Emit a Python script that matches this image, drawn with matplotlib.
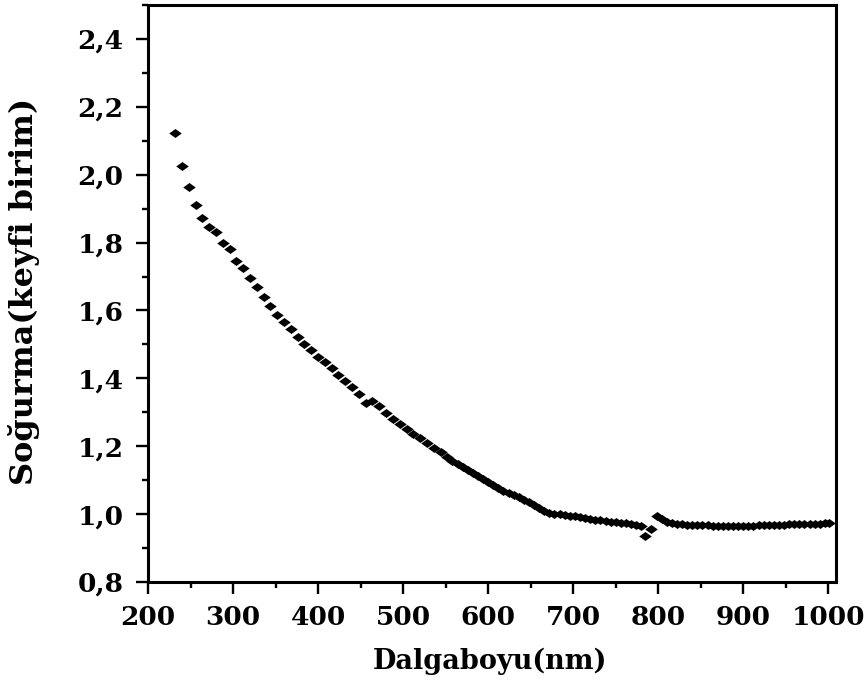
import matplotlib
matplotlib.use("Agg")
import matplotlib.pyplot as plt
from matplotlib.ticker import MultipleLocator, FuncFormatter

# wavelength (nm) and absorbance
wavelength = [232, 240, 248, 256, 264, 272, 280, 288, 296, 304,
              312, 320, 328, 336, 344, 352, 360, 368, 376, 384,
              392, 400, 408, 416, 424, 432, 440, 448, 456, 464,
              472, 480, 488, 496, 504, 512, 520, 528, 536, 544,
              552, 558, 564, 570, 576, 582, 588, 594, 600, 606,
              612, 618, 624, 630, 636, 642, 648, 654, 660, 666,
              672, 678, 684, 690, 696, 702, 708, 714, 720, 726,
              732, 738, 744, 750, 756, 762, 768, 774, 780, 785,
              792, 798, 804, 810, 816, 822, 828, 834, 840, 846,
              852, 858, 864, 870, 876, 882, 888, 894, 900, 906,
              912, 918, 924, 930, 936, 942, 948, 954, 960, 966,
              972, 978, 984, 990, 996, 1001]
absorbance = [2.122, 2.025, 1.963, 1.911, 1.871, 1.847, 1.831, 1.798, 1.782, 1.745,
              1.724, 1.697, 1.669, 1.641, 1.614, 1.588, 1.565, 1.544, 1.523, 1.502,
              1.483, 1.464, 1.447, 1.430, 1.411, 1.391, 1.374, 1.353, 1.328, 1.334,
              1.318, 1.298, 1.281, 1.265, 1.250, 1.237, 1.224, 1.209, 1.195, 1.182,
              1.167, 1.157, 1.148, 1.139, 1.130, 1.121, 1.113, 1.104, 1.094, 1.085,
              1.076, 1.069, 1.062, 1.055, 1.049, 1.042, 1.035, 1.027, 1.018, 1.009,
              1.004, 1.001, 0.999, 0.997, 0.995, 0.993, 0.991, 0.989, 0.987, 0.984,
              0.982, 0.980, 0.978, 0.977, 0.975, 0.973, 0.971, 0.968, 0.966, 0.936,
              0.956, 0.995, 0.985, 0.978, 0.974, 0.972, 0.970, 0.969, 0.968, 0.968,
              0.967, 0.967, 0.966, 0.966, 0.966, 0.966, 0.966, 0.966, 0.966, 0.966,
              0.966, 0.967, 0.967, 0.968, 0.968, 0.969, 0.969, 0.970, 0.970, 0.970,
              0.971, 0.971, 0.972, 0.972, 0.973, 0.973]

plt.rcParams['font.family'] = ['DejaVu Serif']
plt.rcParams['font.weight'] = 'bold'

fig = plt.figure(figsize=(8.67, 6.86), dpi=100)
ax = fig.add_axes([0.1707, 0.1516, 0.7935, 0.8411])

# flattened diamond marker like the original
diamond = [(-1, 0), (0, 0.72), (1, 0), (0, -0.72), (-1, 0)]
ax.plot(wavelength, absorbance, linestyle='none', marker=diamond,
        markersize=9, color='black', markeredgewidth=0)

ax.set_xlim(200, 1009)
ax.set_ylim(0.8, 2.5)
ax.xaxis.set_major_locator(MultipleLocator(100))
ax.xaxis.set_minor_locator(MultipleLocator(50))
ax.yaxis.set_major_locator(MultipleLocator(0.2))
ax.yaxis.set_minor_locator(MultipleLocator(0.1))
ax.yaxis.set_major_formatter(FuncFormatter(lambda v, p: f"{v:.1f}".replace('.', ',')))

for s in ax.spines.values():
    s.set_linewidth(2.2)
ax.tick_params(which='both', direction='out', width=1.7, top=False, right=False,
               labelsize=19)
ax.tick_params(which='major', length=8.6)
ax.tick_params(axis='y', which='major', pad=9)
ax.tick_params(axis='x', which='major', pad=8)
ax.tick_params(which='minor', length=4.3)

ax.set_xlabel('Dalgaboyu(nm)', fontsize=19.5, fontweight='bold')
ax.set_ylabel('Soğurma(keyfi birim)', fontsize=23, fontweight='bold')
ax.xaxis.set_label_coords(0.497, -0.114)
ax.yaxis.set_label_coords(-0.157, 0.503)

fig.savefig('out.png', dpi=100)
